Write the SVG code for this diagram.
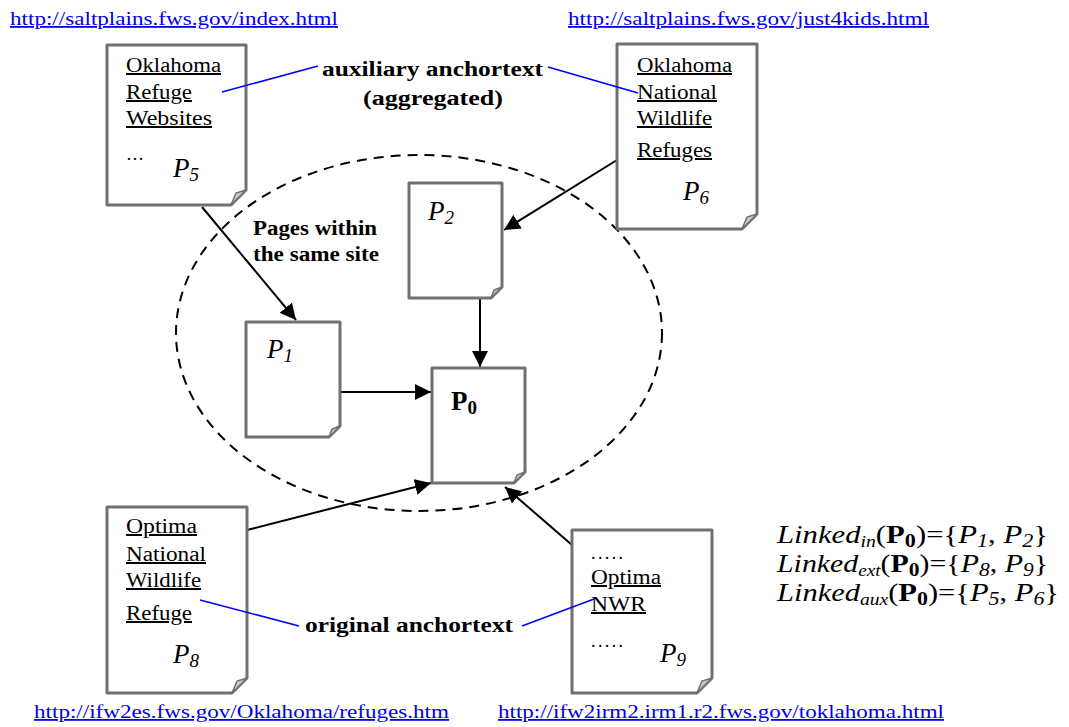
<svg xmlns="http://www.w3.org/2000/svg" width="1069" height="727" viewBox="0 0 1069 727">
<defs>
<style>
.page{fill:#fff;stroke:#707070;stroke-width:3;stroke-linejoin:round}
.fold{fill:#c8c8c8;stroke:#707070;stroke-width:1.5}
.t{font-family:"Liberation Serif",serif;font-size:20px;fill:#000;text-decoration:underline}
.pl{font-family:"Liberation Serif",serif;font-size:27px;font-style:italic;fill:#000}
.dots{font-family:"Liberation Serif",serif;font-size:18px;fill:#000}
.b{font-family:"Liberation Serif",serif;font-size:20px;font-weight:bold;fill:#000}
.url{font-family:"Liberation Serif",serif;font-size:18px;fill:#0000ee;text-decoration:underline}
.f{font-family:"Liberation Serif",serif;font-size:25px;fill:#000}
.conn{stroke:#000;stroke-width:2;fill:none}
.blue{stroke:#0000ff;stroke-width:1.6;fill:none}
</style>
<marker id="arr" viewBox="0 0 10 10" refX="10" refY="5" markerWidth="8" markerHeight="8" markerUnits="strokeWidth" orient="auto">
<path d="M0,0 L10,5 L0,10 Z" fill="#000"/>
</marker>
</defs>
<rect width="1069" height="727" fill="#fff"/>

<ellipse cx="419" cy="333" rx="243" ry="178" fill="none" stroke="#000" stroke-width="2" stroke-dasharray="10,7"/>

<g id="connectors">
<line class="conn" x1="202" y1="207" x2="296" y2="320" marker-end="url(#arr)"/>
<line class="conn" x1="617" y1="160" x2="504" y2="230" marker-end="url(#arr)"/>
<line class="conn" x1="480" y1="299" x2="480" y2="367" marker-end="url(#arr)"/>
<line class="conn" x1="340" y1="392" x2="431" y2="392" marker-end="url(#arr)"/>
<line class="conn" x1="247" y1="530" x2="431" y2="483" marker-end="url(#arr)"/>
<line class="conn" x1="572" y1="545" x2="505" y2="487" marker-end="url(#arr)"/>
</g>

<g id="P5">
<path class="page" d="M107,45 H246 V190 L231,205 H107 Z"/>
<path class="fold" d="M231,205 L246,190 L236,193 Z"/>
<text class="t" x="126" y="72" textLength="95" lengthAdjust="spacingAndGlyphs">Oklahoma</text>
<text class="t" x="126" y="99" textLength="66" lengthAdjust="spacingAndGlyphs">Refuge</text>
<text class="t" x="126" y="125" textLength="86" lengthAdjust="spacingAndGlyphs">Websites</text>
<text class="dots" x="126" y="160">…</text>
<text class="pl" x="173" y="177">P<tspan font-size="19" dy="4">5</tspan></text>
</g>

<g id="P6">
<path class="page" d="M617,44 H757 V214 L742,229 H617 Z"/>
<path class="fold" d="M742,229 L757,214 L747,217 Z"/>
<text class="t" x="637" y="72" textLength="95" lengthAdjust="spacingAndGlyphs">Oklahoma</text>
<text class="t" x="637" y="99" textLength="80" lengthAdjust="spacingAndGlyphs">National</text>
<text class="t" x="637" y="125" textLength="75" lengthAdjust="spacingAndGlyphs">Wildlife</text>
<text class="t" x="637" y="157" textLength="75" lengthAdjust="spacingAndGlyphs">Refuges</text>
<text class="pl" x="683" y="200">P<tspan font-size="19" dy="4">6</tspan></text>
</g>

<g id="P2">
<path class="page" d="M409,183 H502 V287 L491,298 H409 Z"/>
<path class="fold" d="M491,298 L502,287 L494,290 Z"/>
<text class="pl" x="428" y="220">P<tspan font-size="19" dy="4">2</tspan></text>
</g>

<g id="P1">
<path class="page" d="M246,322 H340 V426 L329,437 H246 Z"/>
<path class="fold" d="M329,437 L340,426 L332,429 Z"/>
<text class="pl" x="267" y="358">P<tspan font-size="19" dy="4">1</tspan></text>
</g>

<g id="P0">
<path class="page" d="M432,368 H525 V472 L514,483 H432 Z"/>
<path class="fold" d="M514,483 L525,472 L517,475 Z"/>
<text class="b" x="451" y="410" style="font-size:27px">P<tspan font-size="19" dy="4">0</tspan></text>
</g>

<g id="P8">
<path class="page" d="M107,507 H247 V678 L232,693 H107 Z"/>
<path class="fold" d="M232,693 L247,678 L237,681 Z"/>
<text class="t" x="126" y="533" textLength="71" lengthAdjust="spacingAndGlyphs">Optima</text>
<text class="t" x="126" y="561" textLength="80" lengthAdjust="spacingAndGlyphs">National</text>
<text class="t" x="126" y="587" textLength="75" lengthAdjust="spacingAndGlyphs">Wildlife</text>
<text class="t" x="126" y="620" textLength="66" lengthAdjust="spacingAndGlyphs">Refuge</text>
<text class="pl" x="173" y="663">P<tspan font-size="19" dy="4">8</tspan></text>
</g>

<g id="P9">
<path class="page" d="M572,530 H712 V678 L697,693 H572 Z"/>
<path class="fold" d="M697,693 L712,678 L702,681 Z"/>
<text class="dots" x="591" y="559" textLength="32" lengthAdjust="spacing">.....</text>
<text class="t" x="591" y="584" textLength="70" lengthAdjust="spacingAndGlyphs">Optima</text>
<text class="t" x="591" y="611" textLength="55" lengthAdjust="spacingAndGlyphs">NWR</text>
<text class="dots" x="591" y="647" textLength="32" lengthAdjust="spacing">.....</text>
<text class="pl" x="660" y="662">P<tspan font-size="19" dy="4">9</tspan></text>
</g>

<g id="anchor-lines">
<line class="blue" x1="222" y1="92" x2="318" y2="66"/>
<line class="blue" x1="548" y1="67" x2="638" y2="93"/>
<line class="blue" x1="200" y1="600" x2="299" y2="626"/>
<line class="blue" x1="522" y1="626" x2="594" y2="599"/>
</g>

<g id="labels">
<text class="b" x="322" y="76" textLength="221" lengthAdjust="spacingAndGlyphs">auxiliary anchortext</text>
<text class="b" x="363" y="105" textLength="140" lengthAdjust="spacingAndGlyphs">(aggregated)</text>
<text class="b" x="253" y="235" textLength="124" lengthAdjust="spacingAndGlyphs">Pages within</text>
<text class="b" x="253" y="261" textLength="126" lengthAdjust="spacingAndGlyphs">the same site</text>
<text class="b" x="305" y="632" textLength="208" lengthAdjust="spacingAndGlyphs">original anchortext</text>
</g>

<g id="urls">
<text class="url" x="10" y="25" textLength="328" lengthAdjust="spacingAndGlyphs">http://saltplains.fws.gov/index.html</text>
<text class="url" x="568" y="25" textLength="361" lengthAdjust="spacingAndGlyphs">http://saltplains.fws.gov/just4kids.html</text>
<text class="url" x="34" y="718" textLength="415" lengthAdjust="spacingAndGlyphs">http://ifw2es.fws.gov/Oklahoma/refuges.htm</text>
<text class="url" x="498" y="718" textLength="446" lengthAdjust="spacingAndGlyphs">http://ifw2irm2.irm1.r2.fws.gov/toklahoma.html</text>
</g>

<g id="formulas">
<text class="f" x="777" y="543" textLength="271" lengthAdjust="spacingAndGlyphs"><tspan font-style="italic">Linked</tspan><tspan font-style="italic" font-size="16" dy="4">in</tspan><tspan dy="-4">(</tspan><tspan font-weight="bold">P</tspan><tspan font-weight="bold" font-size="18" dy="4">0</tspan><tspan dy="-4">)={</tspan><tspan font-style="italic">P</tspan><tspan font-style="italic" font-size="18" dy="4">1</tspan><tspan dy="-4">, </tspan><tspan font-style="italic">P</tspan><tspan font-style="italic" font-size="18" dy="4">2</tspan><tspan dy="-4">}</tspan></text>
<text class="f" x="777" y="572" textLength="271" lengthAdjust="spacingAndGlyphs"><tspan font-style="italic">Linked</tspan><tspan font-style="italic" font-size="16" dy="4">ext</tspan><tspan dy="-4">(</tspan><tspan font-weight="bold">P</tspan><tspan font-weight="bold" font-size="18" dy="4">0</tspan><tspan dy="-4">)={</tspan><tspan font-style="italic">P</tspan><tspan font-style="italic" font-size="18" dy="4">8</tspan><tspan dy="-4">, </tspan><tspan font-style="italic">P</tspan><tspan font-style="italic" font-size="18" dy="4">9</tspan><tspan dy="-4">}</tspan></text>
<text class="f" x="777" y="601" textLength="282" lengthAdjust="spacingAndGlyphs"><tspan font-style="italic">Linked</tspan><tspan font-style="italic" font-size="16" dy="4">aux</tspan><tspan dy="-4">(</tspan><tspan font-weight="bold">P</tspan><tspan font-weight="bold" font-size="18" dy="4">0</tspan><tspan dy="-4">)={</tspan><tspan font-style="italic">P</tspan><tspan font-style="italic" font-size="18" dy="4">5</tspan><tspan dy="-4">, </tspan><tspan font-style="italic">P</tspan><tspan font-style="italic" font-size="18" dy="4">6</tspan><tspan dy="-4">}</tspan></text>
</g>
</svg>
